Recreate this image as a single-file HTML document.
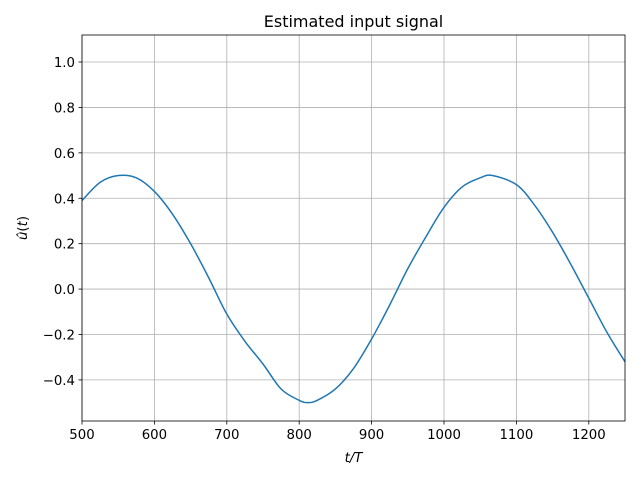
<!DOCTYPE html>
<html><head><meta charset="utf-8"><style>
body{margin:0;background:#fff;width:640px;height:480px;overflow:hidden}
text{font-family:"DejaVu Sans","Liberation Sans",sans-serif;fill:#000}
</style></head><body>
<svg id="chart" width="640" height="480" xmlns="http://www.w3.org/2000/svg">
<rect width="640" height="480" fill="#fff"/>
<g id="grid"></g>
<path id="line" fill="none" stroke="#1f77b4" stroke-width="1.5"/>
<rect x="82" y="35" width="543" height="386" fill="none" stroke="#000" stroke-width="0.8"/>
<g id="ticks"></g>
<text x="353.5" y="27" font-size="16" text-anchor="middle">Estimated input signal</text>
<text x="353.5" y="462" font-size="13.3" text-anchor="middle" font-style="italic">t/T</text>
<text transform="translate(27,228) rotate(-90)" font-size="13.3" text-anchor="middle"><tspan font-style="italic">û</tspan>(<tspan font-style="italic">t</tspan>)</text>
</svg>
<script>
const xs=[500,525,550,575,600,625,650,675,700,725,750,775,800,812,825,850,875,900,925,950,975,1000,1025,1050,1067,1100,1125,1150,1175,1200,1225,1250];
const ys=[0.39,0.47,0.50,0.49,0.43,0.33,0.20,0.05,-0.11,-0.23,-0.33,-0.44,-0.49,-0.50,-0.49,-0.44,-0.35,-0.22,-0.07,0.09,0.23,0.36,0.45,0.49,0.50,0.46,0.37,0.25,0.11,-0.04,-0.19,-0.32];
const xTicks=[500,600,700,800,900,1000,1100,1200];
const yTicks=[-0.4,-0.2,0.0,0.2,0.4,0.6,0.8,1.0];
const L=82,R=625,T=35,B=421,x0=500,x1=1250,y0=-0.581,y1=1.119;
const sx=v=>L+(v-x0)/(x1-x0)*(R-L);
const sy=v=>B-(v-y0)/(y1-y0)*(B-T);
const NS="http://www.w3.org/2000/svg";
const g=document.getElementById('grid'),tk=document.getElementById('ticks');
function mk(p,tag,a){const e=document.createElementNS(NS,tag);for(const k in a)e.setAttribute(k,a[k]);p.appendChild(e);return e;}
xTicks.forEach(v=>{const x=sx(v);
 const gl=mk(g,'line',{x1:x,x2:x,y1:T,y2:B,stroke:'#b0b0b0','stroke-width':0.8});
 
 
 mk(tk,'line',{x1:x,x2:x,y1:B,y2:B+3.5,stroke:'#000','stroke-width':0.8});
 const t=mk(tk,'text',{x:x,y:B+18,'font-size':13.3,'text-anchor':'middle'});t.textContent=v;
 
 });
yTicks.forEach(v=>{const y=sy(v);
 const gl=mk(g,'line',{x1:L,x2:R,y1:y,y2:y,stroke:'#b0b0b0','stroke-width':0.8});
 
 
 mk(tk,'line',{x1:L-3.5,x2:L,y1:y,y2:y,stroke:'#000','stroke-width':0.8});
 const t=mk(tk,'text',{x:L-7,y:y+5,'font-size':13.3,'text-anchor':'end'});t.textContent=(v<0?'\u2212':'')+Math.abs(v).toFixed(1);
 
 });
const P=xs.map((v,i)=>[sx(v),sy(ys[i])]);
let d='M'+P[0][0]+','+P[0][1];
for(let i=0;i<P.length-1;i++){const p0=P[i-1]||P[i],p1=P[i],p2=P[i+1],p3=P[i+2]||p2;
 d+=' C'+(p1[0]+(p2[0]-p0[0])/6)+','+(p1[1]+(p2[1]-p0[1])/6)+' '+(p2[0]-(p3[0]-p1[0])/6)+','+(p2[1]-(p3[1]-p1[1])/6)+' '+p2[0]+','+p2[1];}
document.getElementById('line').setAttribute('d',d);
</script>
</body></html>
